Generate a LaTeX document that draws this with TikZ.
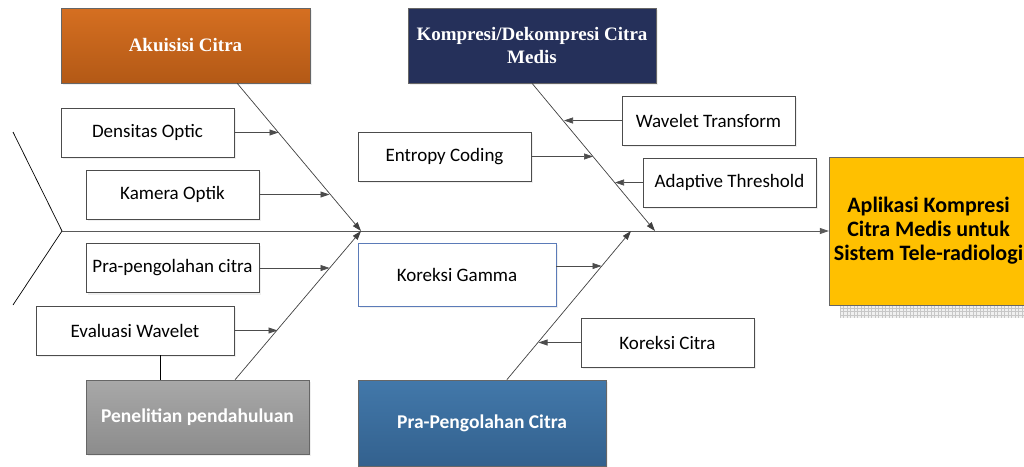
\documentclass[tikz,border=0pt]{standalone}
\usepackage{fontspec}
\setmainfont{Carlito}
\newfontfamily\headserif{Liberation Serif}
\usepackage{xcolor}
\usetikzlibrary{arrows.meta, positioning, calc, shadows}

\definecolor{akuTop}{HTML}{D56F21}
\definecolor{akuBot}{HTML}{B35916}
\definecolor{kompNavy}{HTML}{25305A}
\definecolor{penTop}{HTML}{A8A8A8}
\definecolor{penBot}{HTML}{8C8C8C}
\definecolor{praTop}{HTML}{4278AA}
\definecolor{praBot}{HTML}{33618E}
\definecolor{hasilYellow}{HTML}{FFC000}
\definecolor{gammaEdge}{HTML}{5B7BB8}

\tikzset{
    subcause/.style={draw=black!70, fill=white, line width=0.6pt,
        minimum width=173pt, minimum height=49pt, inner sep=2pt,
        font=\fontsize{19}{22}\selectfont,
        drop shadow={shadow xshift=2pt, shadow yshift=-2pt, fill=black!12}},
    cause/.style={draw=black!60, line width=0.6pt, text=white,
        minimum width=248pt, inner sep=2pt, align=center,
        drop shadow={shadow xshift=2pt, shadow yshift=-2pt, fill=black!12}},
    serifcause/.style={cause, font=\headserif\bfseries\fontsize{19}{23}\selectfont},
    sanscause/.style={cause, font=\bfseries\fontsize{19.5}{22}\selectfont},
    bone/.style={draw=black!75, line width=0.7pt, -{Triangle[length=9pt,width=6pt]}},
    twig/.style={draw=black!70, line width=0.7pt, -{Triangle[length=9pt,width=6pt]}},
}

\begin{document}
\begin{tikzpicture}[x=1pt, y=-1pt]
    \useasboundingbox (0,0) rectangle (1024,466);
    \clip (0,0) rectangle (1024,466);

    % Kepala ikan (akibat)
    \fill[black!6] (840,170) rectangle (1040,318);
    \draw[black!22, line width=0.3pt, step=3.5pt] (840,305) grid (1040,318);
    \node[draw=black!60, fill=hasilYellow, minimum width=199pt, minimum height=148pt,
          align=center, font=\bfseries\fontsize{22}{24}\selectfont]
          (hasil) at (928.5,231) {Aplikasi Kompresi\\Citra Medis untuk\\Sistem Tele-radiologi};

    % Sebab utama
    \node[serifcause, minimum width=249pt, minimum height=75pt, top color=akuTop, bottom color=akuBot]
          (akuisisi) at (185.5,45.5) {Akuisisi Citra};
    \node[serifcause, minimum height=75pt, fill=kompNavy]
          (kompresi) at (532,45.5) {Kompresi/Dekompresi Citra\\Medis};
    \node[sanscause, minimum width=223pt, minimum height=74pt, top color=penTop, bottom color=penBot]
          (penelitian) at (197.5,417) {Penelitian pendahuluan};
    \node[sanscause, minimum height=86pt, top color=praTop, bottom color=praBot]
          (praolah) at (482,423) {Pra-Pengolahan Citra};

    % Sub-sebab
    \node[subcause] (densitas) at (147.5,132.5) {Densitas Optic};
    \node[subcause] (kamera) at (172.5,194.5) {Kamera Optik};
    \node[subcause] (entropy) at (444.5,156.5) {Entropy Coding};
    \node[subcause] (wavelet) at (708.5,120.5) {Wavelet Transform};
    \node[subcause] (adaptive) at (729.5,182.5) {Adaptive Threshold};
    \node[subcause] (prapeng) at (172.5,268) {Pra-pengolahan citra};
    \node[subcause, minimum width=198pt] (evaluasi) at (135,330.5) {Evaluasi Wavelet};
    \node[subcause, draw=gammaEdge, minimum width=198pt, minimum height=63pt] (gamma) at (457,274.5) {Koreksi Gamma};
    \node[subcause] (kcitra) at (667.5,342.5) {Koreksi Citra};

    % Tulang punggung
    \coordinate (ekor) at (62,231);
    \coordinate (ekor-atas) at (13,132);
    \coordinate (ekor-bawah) at (13,305);
    \draw[black, line width=0.7pt] (ekor-atas) -- (ekor) -- (ekor-bawah);
    \draw[bone, draw=black!65] (ekor) -- (hasil.west);

    % Tulang sebab
    \coordinate (akar-aku) at ($(akuisisi.south west)!0.707!(akuisisi.south east)$);
    \coordinate (akar-pen) at ($(penelitian.north west)!0.668!(penelitian.north east)$);
    \coordinate (akar-pra) at ($(praolah.north west)!0.6!(praolah.north east)$);
    \coordinate (ujung-kiri) at (361,231);
    \coordinate (ujung-komp) at (655,231);
    \coordinate (ujung-pra) at (631,231);
    \draw[bone] (akar-aku) -- (ujung-kiri);
    \draw[bone] (kompresi.south) -- (ujung-komp);
    \draw[bone] (akar-pen) -- (ujung-kiri);
    \draw[bone] (akar-pra) -- (ujung-pra);

    % Panah sub-sebab
    \coordinate (t-dens) at (278.5,132.5);
    \coordinate (t-kam) at (329.5,194.5);
    \coordinate (t-ent) at (593,156.5);
    \coordinate (t-wav) at (564,120.5);
    \coordinate (t-ada) at (615,182.5);
    \coordinate (t-prap) at (329.5,268);
    \coordinate (t-eval) at (277.5,330.5);
    \coordinate (s-gam) at (556,266);
    \coordinate (t-gam) at (601.5,266);
    \coordinate (t-kcit) at (538.5,342.5);
    \draw[twig] (densitas.east) -- (t-dens);
    \draw[twig] (kamera.east) -- (t-kam);
    \draw[twig] (entropy.east) -- (t-ent);
    \draw[twig] (wavelet.west) -- (t-wav);
    \draw[twig] (adaptive.west) -- (t-ada);
    \draw[twig] (prapeng.east) -- (t-prap);
    \draw[twig] (evaluasi.east) -- (t-eval);
    \draw[twig] (s-gam) -- (t-gam);
    \draw[twig] (kcitra.west) -- (t-kcit);

    % Evaluasi ke penelitian
    \draw[black, line width=0.7pt] ([xshift=25pt]evaluasi.south) -- ([xshift=25pt]evaluasi.south |- penelitian.north);
\end{tikzpicture}
\end{document}
